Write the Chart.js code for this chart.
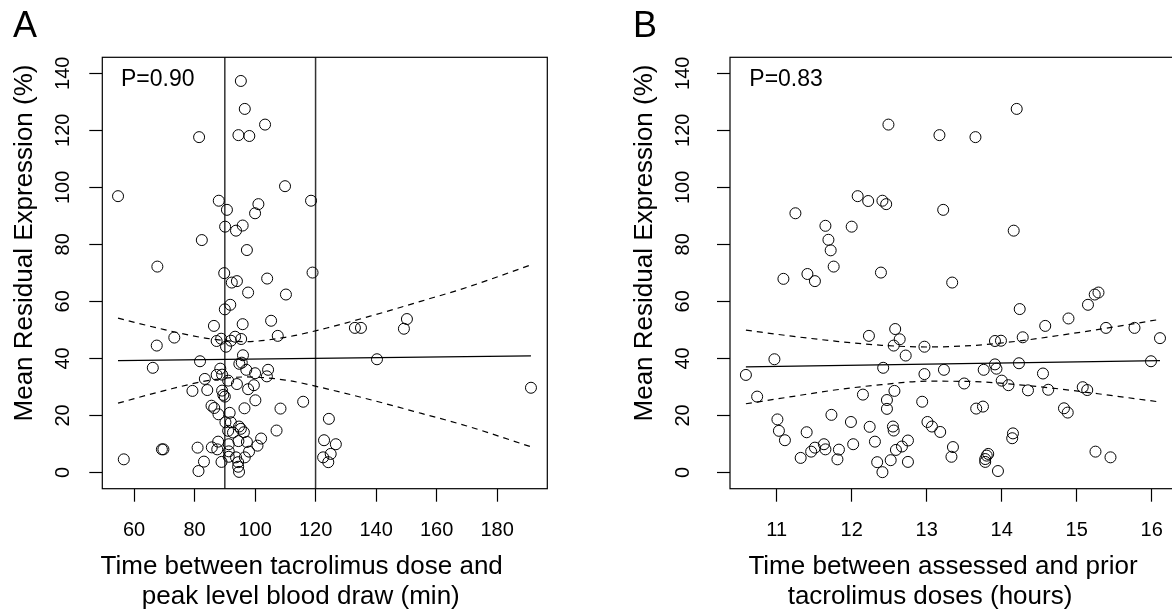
<!DOCTYPE html>
<html>
<head>
<meta charset="utf-8">
<script src="https://cdn.jsdelivr.net/npm/chart.js@4.4.0/dist/chart.umd.min.js"></script>
<style>
  html, body { margin: 0; padding: 0; background: #fff; overflow: hidden; width: 1172px; height: 615px; }
  .panel { position: absolute; top: 0; }
</style>
</head>
<body>
<div class="panel" style="left:0"><canvas id="chartA" width="586" height="615"></canvas></div>
<div class="panel" style="left:586px"><canvas id="chartB" width="620" height="615"></canvas></div>
<script>
// shared y axis
const yTicks = [0, 20, 40, 60, 80, 100, 120, 140];

// panel A: time from dose to peak-level draw (min)
const aTicks = [60, 80, 100, 120, 140, 160, 180];
const aCutoffs = [90, 120];
const aTime = [95.3, 96.6, 103.3, 81.5, 94.5, 98.1, 109.9, 54.7, 88.0, 118.5, 90.7, 101.1, 100.0, 90.1, 93.7,
  95.9, 82.4, 97.3, 67.7, 89.8, 119.0, 92.3, 94.0, 104.0, 97.7, 110.2, 90.0, 91.8, 105.3, 86.4,
  95.9, 73.3, 67.5, 107.5, 87.3, 88.8, 90.4, 92.0, 93.4, 95.4, 96.0, 81.8, 66.2, 94.8, 95.6,
  88.5, 97.1, 104.3, 103.9, 100.0, 87.3, 89.1, 83.4, 91.1, 94.0, 99.6, 97.7, 79.3, 84.2, 89.1,
  89.5, 90.0, 100.1, 115.9, 85.6, 86.5, 96.5, 108.4, 87.9, 91.6, 90.2, 92.0, 94.7, 95.3, 96.3,
  91.1, 92.7, 107.1, 102.0, 94.5, 97.3, 87.8, 91.3, 100.8, 81.0, 85.7, 87.5, 69.2, 69.7, 91.3,
  98.0, 96.6, 93.7, 91.3, 56.6, 83.1, 88.9, 94.4, 94.4, 81.3, 94.7, 133.0, 135.0, 149.2, 150.2,
  140.3, 191.2, 124.4, 122.8, 126.7, 125.0, 122.5, 124.2];
const aExpr = [137.3, 127.5, 122.0, 117.6, 118.3, 118.0, 100.4, 96.9, 95.3, 95.3, 92.1, 94.1, 90.9, 86.2, 84.8,
  86.6, 81.5, 78.0, 72.2, 69.9, 70.1, 66.6, 67.1, 68.0, 63.1, 62.4, 57.2, 58.8, 53.2, 51.4,
  52.0, 47.3, 44.5, 47.9, 46.1, 46.9, 44.1, 46.2, 47.6, 46.8, 41.1, 39.0, 36.7, 38.1, 38.5,
  36.4, 36.0, 36.0, 33.7, 34.8, 34.2, 34.3, 32.8, 32.2, 31.0, 30.6, 29.2, 28.6, 28.9, 28.7,
  27.2, 26.6, 25.3, 24.8, 23.4, 22.6, 22.5, 22.4, 20.4, 20.9, 17.6, 17.6, 16.1, 15.3, 14.1,
  14.6, 14.0, 14.7, 11.9, 11.0, 10.7, 10.8, 9.9, 9.4, 8.7, 8.8, 8.1, 8.1, 8.1, 7.4,
  7.3, 5.3, 5.3, 5.5, 4.6, 3.8, 3.7, 3.6, 2.0, 0.5, 0.2, 50.7, 50.7, 50.4, 53.8,
  39.7, 29.7, 18.8, 11.3, 9.9, 6.5, 5.3, 3.6];
const aFitX = [54.7, 191.2];
const aFitY = [39.2, 40.9];
const aBandX = [54.7, 70, 85, 97, 110, 125, 140, 155, 170, 191.2];
const aUpper = [54.1, 50.1, 46.9, 45.9, 47.4, 51.0, 55.4, 60.1, 64.9, 72.8];
const aLower = [24.3, 28.7, 32.3, 33.5, 32.4, 29.0, 25.0, 20.7, 16.3, 9.0];

// panel B: time between assessed and prior doses (hours)
const bTicks = [11, 12, 13, 14, 15, 16];
const bTime = [12.49, 13.17, 11.25, 12.08, 12.22, 12.41, 12.46, 13.22, 11.65, 12.00, 11.69, 11.72, 11.76, 11.41, 12.39,
  14.20, 13.65, 14.16, 11.51, 11.09, 12.58, 12.23, 12.64, 12.56, 12.97, 12.72, 10.97, 10.59, 12.42, 12.97,
  13.23, 10.74, 12.15, 12.57, 12.47, 12.47, 12.94, 11.01, 11.73, 11.99, 12.24, 12.55, 12.56, 13.01, 13.07,
  13.18, 11.03, 11.11, 11.40, 12.31, 12.75, 12.02, 11.63, 11.51, 11.46, 11.65, 11.83, 12.67, 12.59, 11.32,
  11.81, 12.52, 12.34, 12.75, 12.41, 13.34, 15.29, 15.24, 15.15, 14.24, 14.89, 14.58, 15.39, 15.77, 16.11,
  14.28, 13.91, 13.99, 13.91, 13.93, 14.23, 15.99, 13.76, 14.55, 13.50, 14.00, 14.09, 14.35, 14.62, 15.08,
  15.14, 13.66, 13.75, 14.83, 14.88, 14.15, 14.14, 13.35, 13.33, 13.82, 13.80, 13.78, 13.78, 13.95, 15.25,
  15.45];
const bExpr = [122.0, 118.3, 90.9, 96.9, 95.2, 95.3, 94.1, 92.1, 86.5, 86.2, 81.6, 77.9, 72.2, 69.6, 70.1,
  127.5, 117.6, 84.8, 67.1, 67.9, 50.3, 47.9, 46.7, 44.5, 44.1, 41.0, 39.7, 34.2, 36.7, 34.5,
  36.0, 26.6, 27.3, 28.6, 25.4, 22.3, 24.8, 18.6, 20.2, 17.7, 16.0, 16.1, 14.7, 17.7, 16.1,
  14.2, 14.6, 11.3, 14.1, 10.8, 11.2, 9.9, 9.9, 8.7, 7.3, 8.1, 8.0, 9.1, 7.9, 5.1,
  4.6, 4.3, 3.6, 3.7, 0.1, 66.6, 63.1, 62.4, 58.8, 57.3, 54.0, 51.4, 50.7, 50.7, 47.1,
  47.4, 46.1, 46.2, 37.9, 36.4, 38.3, 39.0, 36.0, 34.7, 31.2, 32.2, 30.6, 28.8, 29.0, 29.9,
  28.9, 22.4, 23.1, 22.5, 21.0, 13.7, 12.0, 8.9, 5.5, 6.5, 5.9, 4.7, 3.7, 0.5, 7.3,
  5.3];
const bFitX = [10.59, 16.11];
const bFitY = [37.0, 39.2];
const bBandX = [10.59, 11.2, 11.8, 12.4, 13.0, 13.6, 14.2, 14.8, 15.4, 16.11];
const bUpper = [49.9, 47.8, 46.0, 44.6, 44.0, 44.5, 46.0, 48.2, 50.6, 53.7];
const bLower = [24.1, 26.6, 29.0, 30.8, 32.0, 31.9, 30.8, 29.2, 27.2, 24.7];

const FONT = "'Liberation Sans', Arial, Helvetica, sans-serif";
const Y_MIN = -5.7, Y_MAX = 145.6;

const pts = (xs, ys) => xs.map((x, i) => ({ x: x, y: ys[i] }));

// box round the plot + free text (panel letter, p value, axis titles)
const annotate = {
  id: 'annotate',
  afterDraw(chart, args, o) {
    const ctx = chart.ctx, a = chart.chartArea;
    ctx.save();
    ctx.strokeStyle = '#000';
    ctx.lineWidth = 1.2;
    ctx.strokeRect(a.left, a.top, a.right - a.left, a.bottom - a.top);
    ctx.fillStyle = '#000';
    ctx.textBaseline = 'middle';
    ctx.textAlign = 'center';
    ctx.font = '36px ' + FONT;
    ctx.fillText(o.letter, o.letterPos[0], o.letterPos[1]);
    ctx.textAlign = 'left';
    ctx.font = '23px ' + FONT;
    ctx.fillText(o.p, o.pPos[0], o.pPos[1]);
    ctx.textAlign = 'center';
    ctx.font = '26px ' + FONT;
    o.xTitle.forEach((t, i) => ctx.fillText(t, o.xTitlePos[i][0], o.xTitlePos[i][1]));
    ctx.translate(o.yTitlePos[0], o.yTitlePos[1]);
    ctx.rotate(-Math.PI / 2);
    ctx.fillText('Mean Residual Expression (%)', 0, 0);
    ctx.restore();
  }
};

function makePanel(id, p) {
  const datasets = [
    { type: 'scatter', data: pts(p.x, p.y), showLine: false, pointRadius: 5.5, pointBorderWidth: 1,
      borderColor: '#000', backgroundColor: 'rgba(0,0,0,0)' },
    { type: 'line', data: pts(p.fitX, p.fitY), showLine: true, borderColor: '#000', borderWidth: 1.2, pointRadius: 0 },
    { type: 'line', data: pts(p.bandX, p.upper), showLine: true, borderColor: '#000', borderWidth: 1.2,
      borderDash: [6, 5], pointRadius: 0, cubicInterpolationMode: 'monotone' },
    { type: 'line', data: pts(p.bandX, p.lower), showLine: true, borderColor: '#000', borderWidth: 1.2,
      borderDash: [6, 5], pointRadius: 0, cubicInterpolationMode: 'monotone' }
  ];
  (p.cutoffs || []).forEach(c => datasets.push({
    type: 'line', data: [{ x: c, y: Y_MIN }, { x: c, y: Y_MAX }], showLine: true,
    borderColor: '#333', borderWidth: 1.5, pointRadius: 0
  }));

  return new Chart(document.getElementById(id), {
    type: 'scatter',
    data: { datasets: datasets },
    plugins: [annotate],
    options: {
      responsive: false,
      animation: false,
      devicePixelRatio: 1,
      layout: { padding: { left: 0, top: 57.3, right: p.padRight, bottom: 0 } },
      plugins: {
        legend: { display: false },
        tooltip: { enabled: false },
        annotate: p.text
      },
      scales: {
        x: {
          type: 'linear', min: p.xMin, max: p.xMax,
          afterFit: s => { s.height = 615 - 488.7; },
          afterBuildTicks: s => { s.ticks = p.ticks.map(v => ({ value: v })); },
          border: { display: false },
          grid: { display: true, drawOnChartArea: false, drawTicks: true, tickLength: 13, tickColor: '#000', tickWidth: 1.2 },
          ticks: { color: '#000', font: { family: FONT, size: 20 }, padding: 17, maxRotation: 0, autoSkip: false }
        },
        y: {
          type: 'linear', min: Y_MIN, max: Y_MAX,
          afterFit: s => { s.width = p.areaLeft; },
          afterBuildTicks: s => { s.ticks = yTicks.map(v => ({ value: v })); },
          border: { display: false },
          grid: { display: true, drawOnChartArea: false, drawTicks: true, tickLength: 13, tickColor: '#000', tickWidth: 1.2 },
          ticks: { color: '#000', font: { family: FONT, size: 20 }, padding: p.yPad, minRotation: 90, maxRotation: 90,
                   crossAlign: 'center', autoSkip: false }
        }
      }
    }
  });
}

makePanel('chartA', {
  x: aTime, y: aExpr, fitX: aFitX, fitY: aFitY, bandX: aBandX, upper: aUpper, lower: aLower,
  cutoffs: aCutoffs, ticks: aTicks, xMin: 49.5, xMax: 196.6,
  areaLeft: 102.3, padRight: 586 - 547.3, yPad: 9.3,
  text: {
    letter: 'A', letterPos: [25, 27], p: 'P=0.90', pPos: [121, 80],
    xTitle: ['Time between tacrolimus dose and', 'peak level blood draw (min)'],
    xTitlePos: [[301.7, 567], [300.8, 597]], yTitlePos: [25, 243]
  }
});

makePanel('chartB', {
  x: bTime, y: bExpr, fitX: bFitX, fitY: bFitY, bandX: bBandX, upper: bUpper, lower: bLower,
  ticks: bTicks, xMin: 10.378, xMax: 16.33,
  areaLeft: 730 - 586, padRight: 620 - (1176.5 - 586), yPad: 17,
  text: {
    letter: 'B', letterPos: [59, 27], p: 'P=0.83', pPos: [163.3, 80],
    xTitle: ['Time between assessed and prior', 'tacrolimus doses (hours)'],
    xTitlePos: [[357, 567], [344, 597]], yTitlePos: [59, 243]
  }
});
</script>
</body>
</html>
